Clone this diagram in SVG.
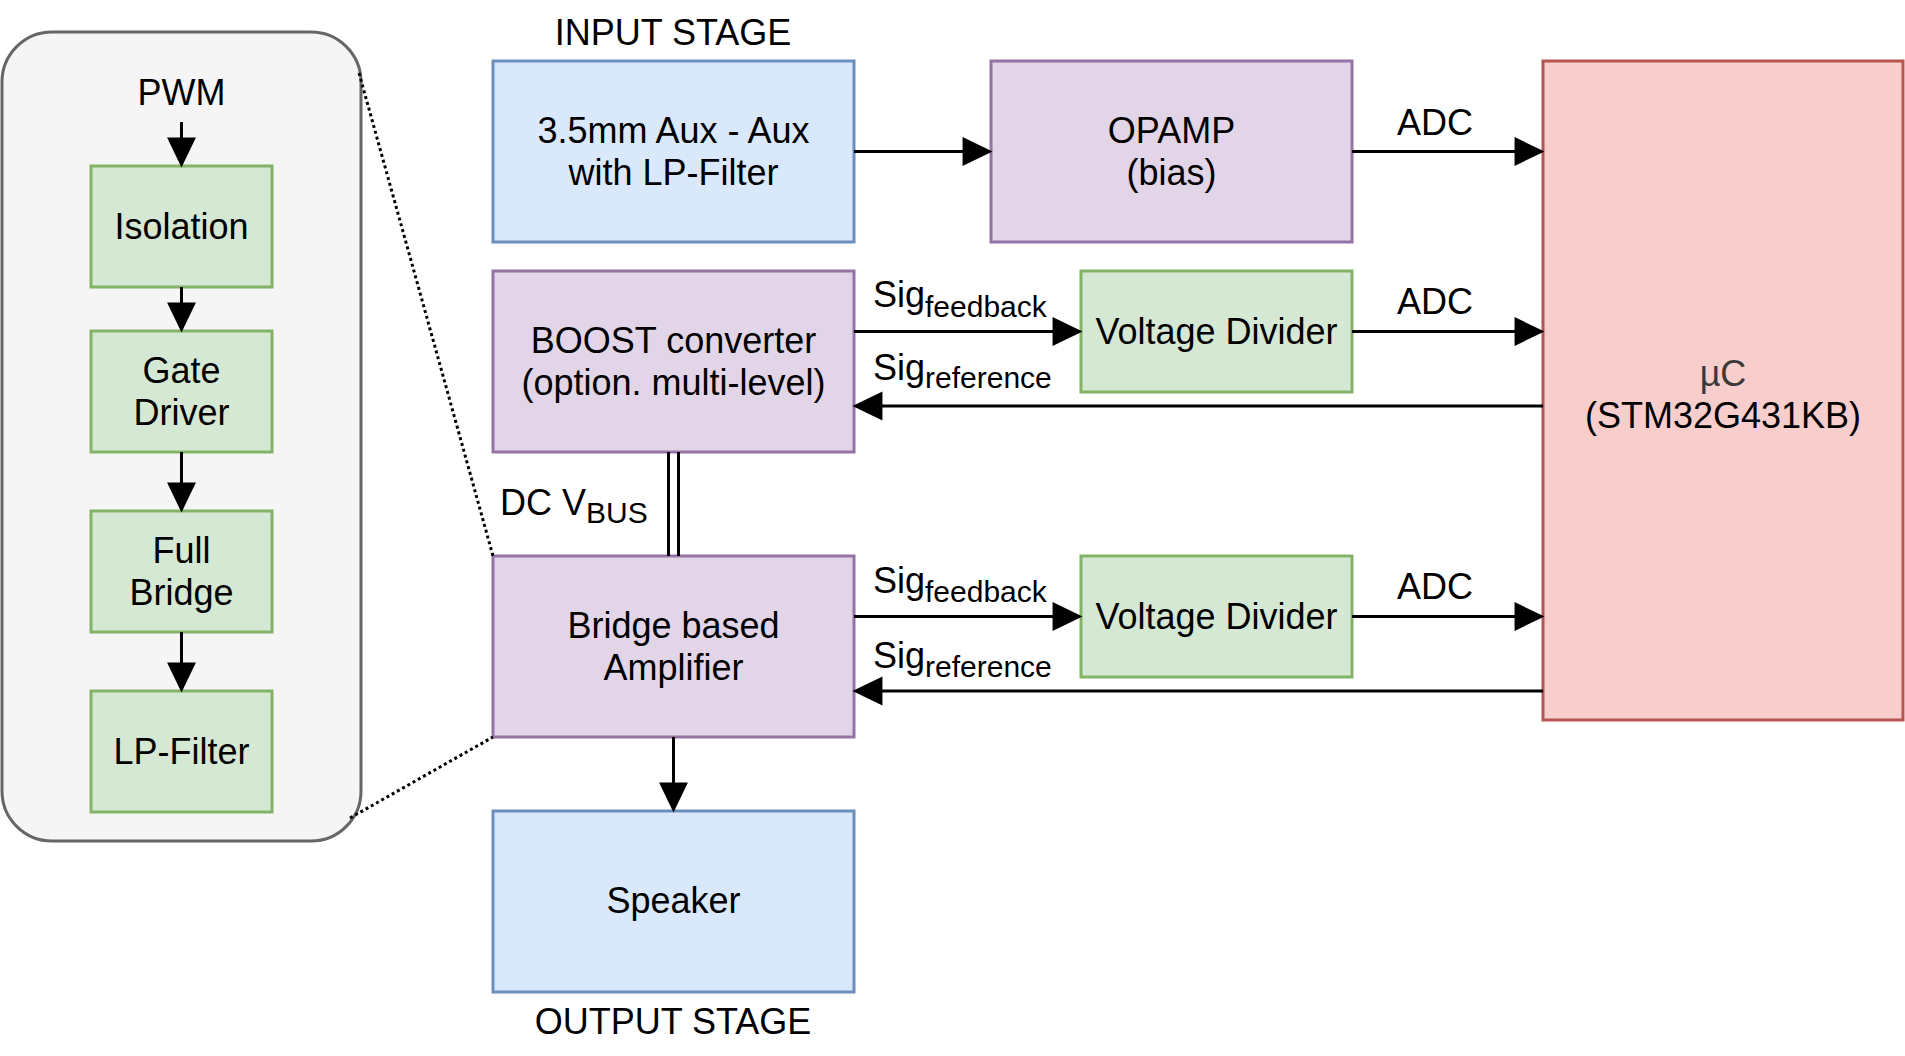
<svg xmlns="http://www.w3.org/2000/svg" width="1905" height="1056" viewBox="0 0 1905 1056">
<style>
text{font-family:"Liberation Sans",Arial,Helvetica,sans-serif;font-size:36px;fill:#000}
.c{text-anchor:middle}
.sub{font-size:30px}
.blue{fill:#dae8fc;stroke:#6c8ebf;stroke-width:3}
.purple{fill:#e1d5e7;stroke:#9673a6;stroke-width:3}
.green{fill:#d5e8d4;stroke:#82b366;stroke-width:3}
.red{fill:#f8cecc;stroke:#b85450;stroke-width:3}
.edge{fill:none;stroke:#000;stroke-width:3}
.dot{fill:none;stroke:#000;stroke-width:3;stroke-dasharray:3 3}
</style>
<defs>
<marker id="arr" markerUnits="userSpaceOnUse" markerWidth="30" markerHeight="30" refX="16" refY="12.5" orient="auto" viewBox="0 0 26 25" overflow="visible">
<path d="M0,0 L26,12.5 L0,25 Z" fill="#000"/>
</marker>
</defs>
<rect width="1905" height="1056" fill="#fff"/>

<g id="detail-container">
<rect x="2" y="32" width="359" height="809" rx="50" ry="50" fill="#f5f5f5" stroke="#666666" stroke-width="3"/>
<text class="c" x="181.5" y="105">PWM</text>
</g>
<g id="isolation"><rect class="green" x="91" y="166" width="181" height="121"/><text class="c" x="181.5" y="239">Isolation</text></g>
<g id="gate-driver"><rect class="green" x="91" y="331" width="181" height="121"/><text class="c" x="181.5" y="383">Gate</text><text class="c" x="181.5" y="425">Driver</text></g>
<g id="full-bridge"><rect class="green" x="91" y="511" width="181" height="121"/><text class="c" x="181.5" y="563">Full</text><text class="c" x="181.5" y="605">Bridge</text></g>
<g id="lp-filter"><rect class="green" x="91" y="691" width="181" height="121"/><text class="c" x="181.5" y="764">LP-Filter</text></g>

<g id="input-stage-label"><text class="c" x="673" y="45">INPUT STAGE</text></g>
<g id="aux"><rect class="blue" x="493" y="61" width="361" height="181"/><text class="c" x="673.5" y="143">3.5mm Aux - Aux</text><text class="c" x="673.5" y="185">with LP-Filter</text></g>
<g id="opamp"><rect class="purple" x="991" y="61" width="361" height="181"/><text class="c" x="1171.5" y="143">OPAMP</text><text class="c" x="1171.5" y="185">(bias)</text></g>
<g id="uc"><rect class="red" x="1543" y="61" width="360" height="659"/><text class="c" x="1723" y="386" style="fill:#3a3a3a">µC</text><text class="c" x="1723" y="428">(STM32G431KB)</text></g>
<g id="boost"><rect class="purple" x="493" y="271" width="361" height="181"/><text class="c" x="673.5" y="353">BOOST converter</text><text class="c" x="673.5" y="395">(option. multi-level)</text></g>
<g id="vdiv1"><rect class="green" x="1081" y="271" width="271" height="121"/><text class="c" x="1216.5" y="344">Voltage Divider</text></g>
<g id="bridge-amp"><rect class="purple" x="493" y="556" width="361" height="181"/><text class="c" x="673.5" y="638">Bridge based</text><text class="c" x="673.5" y="680">Amplifier</text></g>
<g id="vdiv2"><rect class="green" x="1081" y="556" width="271" height="121"/><text class="c" x="1216.5" y="629">Voltage Divider</text></g>
<g id="speaker"><rect class="blue" x="493" y="811" width="361" height="181"/><text class="c" x="673.5" y="913">Speaker</text></g>
<g id="output-stage-label"><text class="c" x="673" y="1034">OUTPUT STAGE</text></g>

<g id="connectors">
<line class="edge" x1="181.5" y1="122" x2="181.5" y2="156" marker-end="url(#arr)"/>
<line class="edge" x1="181.5" y1="287" x2="181.5" y2="321" marker-end="url(#arr)"/>
<line class="edge" x1="181.5" y1="452" x2="181.5" y2="501" marker-end="url(#arr)"/>
<line class="edge" x1="181.5" y1="632" x2="181.5" y2="681" marker-end="url(#arr)"/>
<line class="dot" x1="359" y1="73" x2="493" y2="556"/>
<line class="dot" x1="350" y1="818" x2="493" y2="737"/>

<line class="edge" x1="854" y1="151.5" x2="981" y2="151.5" marker-end="url(#arr)"/>
<line class="edge" x1="1352" y1="151.5" x2="1533" y2="151.5" marker-end="url(#arr)"/>
<text class="c" x="1435" y="135">ADC</text>

<line class="edge" x1="854" y1="331.5" x2="1071" y2="331.5" marker-end="url(#arr)"/>
<text x="873" y="307">Sig<tspan class="sub" dy="10">feedback</tspan></text>
<line class="edge" x1="1352" y1="331.5" x2="1533" y2="331.5" marker-end="url(#arr)"/>
<text class="c" x="1435" y="314">ADC</text>
<line class="edge" x1="1543" y1="406" x2="864" y2="406" marker-end="url(#arr)"/>
<text x="873" y="380">Sig<tspan class="sub" dy="8">reference</tspan></text>

<line class="edge" x1="668.5" y1="452" x2="668.5" y2="556"/>
<line class="edge" x1="678.5" y1="452" x2="678.5" y2="556"/>
<text x="500" y="515">DC V<tspan class="sub" dy="8">BUS</tspan></text>

<line class="edge" x1="854" y1="616.5" x2="1071" y2="616.5" marker-end="url(#arr)"/>
<text x="873" y="593">Sig<tspan class="sub" dy="9">feedback</tspan></text>
<line class="edge" x1="1352" y1="616.5" x2="1533" y2="616.5" marker-end="url(#arr)"/>
<text class="c" x="1435" y="599">ADC</text>
<line class="edge" x1="1543" y1="691" x2="864" y2="691" marker-end="url(#arr)"/>
<text x="873" y="668">Sig<tspan class="sub" dy="9">reference</tspan></text>

<line class="edge" x1="673.5" y1="737" x2="673.5" y2="801" marker-end="url(#arr)"/>
</g>
</svg>
